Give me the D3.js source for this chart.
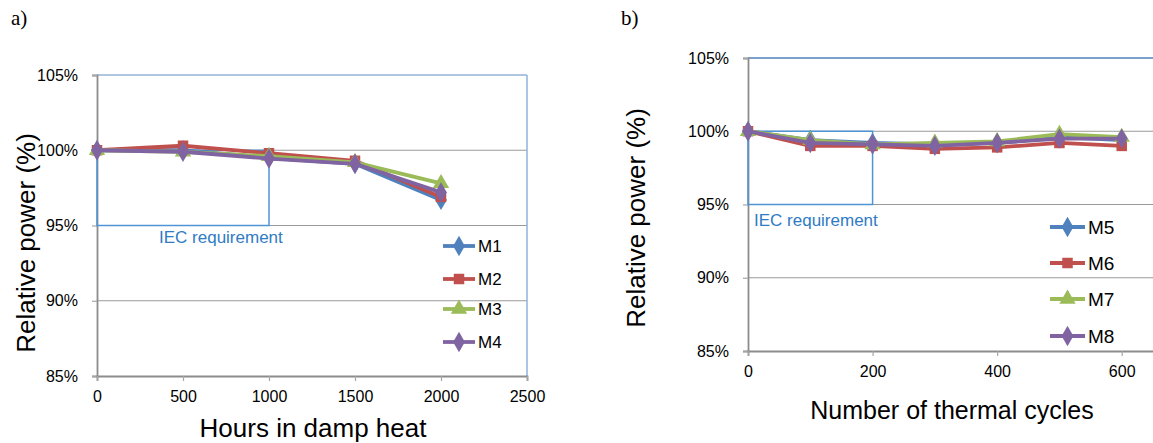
<!DOCTYPE html>
<html>
<head>
<meta charset="utf-8">
<script src="https://cdnjs.cloudflare.com/ajax/libs/d3/7.8.5/d3.min.js"></script>
<style>
  body { margin: 0; background: #fff; }
  svg { display: block; }
  text { font-family: "Liberation Sans", Arial, sans-serif; }
</style>
</head>
<body>
<div id="chart"></div>
<script>
// values (relative power in %)
var hours = [0, 500, 1000, 1500, 2000];
var m1 = [100, 100.0, 99.5, 99.1, 96.7];
var m2 = [100, 100.3, 99.8, 99.3, 96.9];
var m3 = [100, 99.9, 99.6, 99.2, 97.8];
var m4 = [100, 99.9, 99.45, 99.1, 97.2];

var cycles = [0, 100, 200, 300, 400, 500, 600];
var m5 = [100, 99.4, 99.2, 99.1, 99.2, 99.6, 99.4];
var m6 = [100, 99.0, 99.0, 98.8, 98.9, 99.2, 99.0];
var m7 = [100, 99.4, 99.1, 99.2, 99.3, 99.8, 99.6];
var m8 = [100, 99.2, 99.1, 99.0, 99.2, 99.5, 99.5];

var yTicks = [85, 90, 95, 100, 105];
var hourTicks = [0, 500, 1000, 1500, 2000, 2500];
var cycleTicks = [0, 200, 400, 600];

// IEC requirement box: [x end, y low] (x from 0, y up to 100)
var iecA = [1000, 95];
var iecB = [200, 95];

var colors = ["#4f81bd", "#c0504d", "#9bbb59", "#8064a2"];
var shapes = [d3.symbolDiamond, d3.symbolSquare, d3.symbolTriangle, d3.symbolDiamond];
var sizes = [120, 110, 115, 120];

var svg = d3.select("#chart").append("svg")
    .attr("width", 1153)
    .attr("height", 443);

function drawPanel(opt) {
    var g = svg.append("g");
    var x = d3.scaleLinear().domain(opt.xDomain).range(opt.xRange);
    var y = d3.scaleLinear().domain([85, 105]).range(opt.yRange);

    // gridlines
    g.selectAll(".grid")
        .data(yTicks.filter(d => d > 85 && d < 105))
        .enter().append("line")
        .attr("x1", x(opt.xDomain[0])).attr("x2", x(opt.xDomain[1]))
        .attr("y1", d => y(d)).attr("y2", d => y(d))
        .attr("stroke", "#9a9a9a").attr("stroke-width", 1.2);

    // plot area border top / right
    g.append("line")
        .attr("x1", x(opt.xDomain[0])).attr("x2", x(opt.xDomain[1]))
        .attr("y1", y(105)).attr("y2", y(105))
        .attr("stroke", opt.borderTop).attr("stroke-width", 1.5);
    g.append("line")
        .attr("x1", x(opt.xDomain[1])).attr("x2", x(opt.xDomain[1]))
        .attr("y1", y(105)).attr("y2", y(85))
        .attr("stroke", "#8db3e2").attr("stroke-width", 1.5);

    // axes
    var yAxis = d3.axisLeft(y).tickValues(yTicks).tickSize(5).tickFormat(d => d + "%");
    var yG = g.append("g")
        .attr("transform", `translate(${x(opt.xDomain[0])},0)`)
        .call(yAxis);
    var xAxis = d3.axisBottom(x).tickValues(opt.xTicks).tickSize(5).tickPadding(10)
        .tickFormat(d3.format("d"));
    var xG = g.append("g")
        .attr("transform", `translate(0,${y(85)})`)
        .call(xAxis);
    [yG, xG].forEach(function(a) {
        a.attr("font-size", null).attr("font-family", null);
        a.select(".domain").attr("stroke", "#8c8c8c").attr("stroke-width", 1.8);
        a.selectAll(".tick line").attr("stroke", "#a6a6a6").attr("stroke-width", 1.2);
        a.selectAll(".tick text").attr("fill", "#000")
            .style("font-size", "16px");
    });
    yG.selectAll(".tick text").attr("x", -19);

    // IEC box
    g.append("rect")
        .attr("x", x(0)).attr("y", y(100))
        .attr("width", x(opt.iec[0]) - x(0))
        .attr("height", y(opt.iec[1]) - y(100))
        .attr("fill", "none").attr("stroke", "#4f94d4").attr("stroke-width", 1.5);
    g.append("text")
        .attr("x", opt.iecText[0]).attr("y", opt.iecText[1])
        .attr("fill", "#2f7bc4").style("font-size", "17px")
        .text("IEC requirement");

    // series
    var line = d3.line().x((d, i) => x(opt.xs[i])).y(d => y(d));
    opt.series.forEach(function(s, k) {
        g.append("path").datum(s)
            .attr("d", line)
            .attr("fill", "none")
            .attr("stroke", colors[k])
            .attr("stroke-width", 3.8)
            .attr("stroke-linejoin", "round");
        g.selectAll(".pt" + k).data(s).enter().append("path")
            .attr("transform", (d, i) => `translate(${x(opt.xs[i])},${y(d)})`)
            .attr("d", d3.symbol().type(shapes[k]).size(sizes[k]))
            .attr("fill", colors[k]);
    });

    // legend
    opt.names.forEach(function(n, k) {
        var ly = opt.legend.y[k];
        g.append("line")
            .attr("x1", opt.legend.x).attr("x2", opt.legend.x + opt.legend.w)
            .attr("y1", ly).attr("y2", ly)
            .attr("stroke", colors[k]).attr("stroke-width", 3.8);
        g.append("path")
            .attr("transform", `translate(${opt.legend.x + opt.legend.w / 2},${ly})`)
            .attr("d", d3.symbol().type(shapes[k]).size(sizes[k]))
            .attr("fill", colors[k]);
        g.append("text")
            .attr("x", opt.legend.x + opt.legend.w + 3).attr("y", ly)
            .attr("dy", "0.36em")
            .style("font-size", opt.legend.fs + "px")
            .text(n);
    });

    // titles
    g.append("text")
        .attr("transform", `translate(${opt.yTitle[0]},${opt.yTitle[1]}) rotate(-90)`)
        .attr("text-anchor", "middle")
        .style("font-size", "26px")
        .text("Relative power (%)");
    g.append("text")
        .attr("x", opt.xTitle[0]).attr("y", opt.xTitle[1])
        .attr("text-anchor", "middle")
        .style("font-size", opt.xTitle[2] + "px")
        .text(opt.xLabel);
    g.append("text")
        .attr("x", opt.tag[0]).attr("y", opt.tag[1])
        .style("font-family", "'Liberation Serif', 'Times New Roman', serif")
        .style("font-size", "21px")
        .text(opt.tagText);
}

drawPanel({
    xDomain: [0, 2500], xRange: [97, 527], yRange: [376, 75],
    xTicks: hourTicks, xs: hours, series: [m1, m2, m3, m4],
    names: ["M1", "M2", "M3", "M4"],
    iec: iecA, iecText: [159, 243],
    borderTop: "#95b3d7",
    legend: { x: 443, w: 32, y: [246, 279, 309, 342], fs: 17 },
    yTitle: [35, 243], xTitle: [313, 437, 26], xLabel: "Hours in damp heat",
    tag: [11, 25], tagText: "a)"
});

drawPanel({
    xDomain: [0, 700], xRange: [748, 1184], yRange: [351, 58],
    xTicks: cycleTicks, xs: cycles, series: [m5, m6, m7, m8],
    names: ["M5", "M6", "M7", "M8"],
    iec: iecB, iecText: [754, 226],
    borderTop: "#4f81bd",
    legend: { x: 1050, w: 35, y: [227, 263, 299, 336], fs: 19 },
    yTitle: [645, 218], xTitle: [952, 419, 25], xLabel: "Number of thermal cycles",
    tag: [621, 25], tagText: "b)"
});
</script>
</body>
</html>
